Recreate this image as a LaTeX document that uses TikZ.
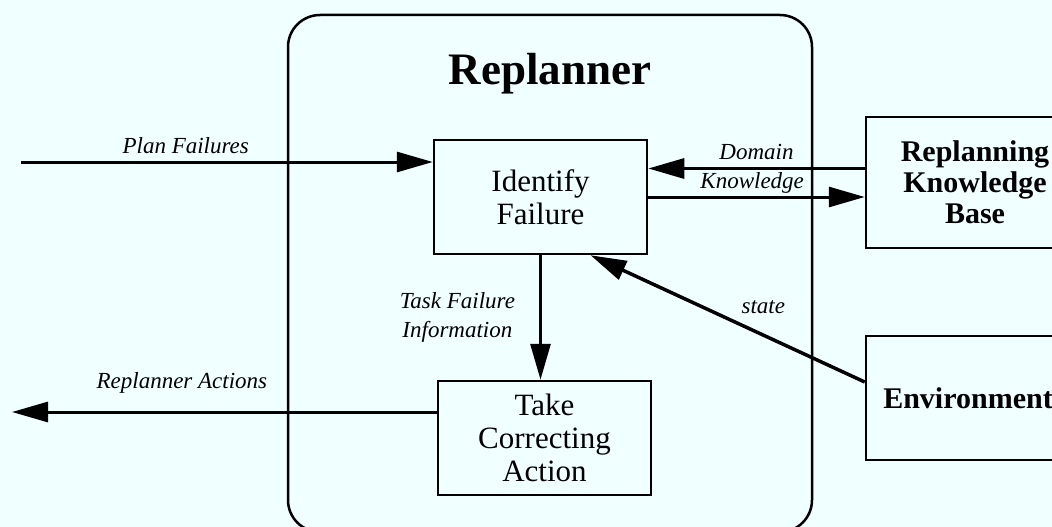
\documentclass[tikz,border=0pt]{standalone}
\usepackage{fontspec}
\setmainfont{Liberation Serif}
\usetikzlibrary{arrows.meta}
\definecolor{paper}{RGB}{240,255,255}
\tikzset{
    box/.style={draw,line width=2.5pt,inner sep=0pt,align=center,font=\fontsize{31}{33}\selectfont},
    kbox/.style={box,font=\fontsize{30}{31}\selectfont\bfseries},
    flow/.style={line width=3pt,-{Triangle[length=36pt,width=20pt]}},
    lbl/.style={font=\fontsize{23}{29}\selectfont\itshape,inner sep=2pt,align=center},
}
\begin{document}
\begin{tikzpicture}[x=1pt,y=-1pt]
    \fill[paper](0,0)rectangle(1052,527);
    \useasboundingbox(0,0)rectangle(1052,527);
    \clip(0,0)rectangle(1052,527);

    \draw[line width=2.5pt,rounded corners=32pt](288,15)rectangle(812,532);
    \node[font=\fontsize{45}{50}\selectfont\bfseries](title)at(550,74){Replanner};

    \node[box,minimum width=213pt,minimum height=114pt](ident)at(540.5,197){Identify\\Failure};
    \node[box,minimum width=213pt,minimum height=114pt](take)at(544.5,438){Take\\Correcting\\Action};
    \node[kbox,minimum width=218pt,minimum height=131pt](rkb)at(975,182.5){Replanning\\Knowledge\\Base};
    \node[kbox,minimum width=204pt,minimum height=124pt](env)at(968,398){Environment};

    \coordinate(pfin)at(21,162);
    \coordinate(raout)at(12,412);
    \coordinate(dk)at([yshift=14pt]rkb.west);

    \draw[flow](pfin)--node[lbl,pos=0.4,above=5pt]{Plan Failures}(ident.west|-pfin);
    \draw[flow](dk)--node[lbl,pos=0.5,above=5pt]{Domain}(ident.east|-dk);
    \draw[flow](ident.east)--node[lbl,pos=0.48,above=0pt]{Knowledge}(ident.east-|rkb.west);
    \draw[flow](ident.south)--node[lbl,midway,left=22pt]{Task Failure\\Information}(ident.south|-take.north);
    \draw[flow](take.west|-raout)--node[lbl,pos=0.6,above=15pt]{Replanner Actions}(raout);
    \draw[flow,line width=3.5pt]([yshift=16pt]env.west)--node[lbl,pos=0.37,above=18pt]{state}([xshift=50pt]ident.south);
\end{tikzpicture}
\end{document}
